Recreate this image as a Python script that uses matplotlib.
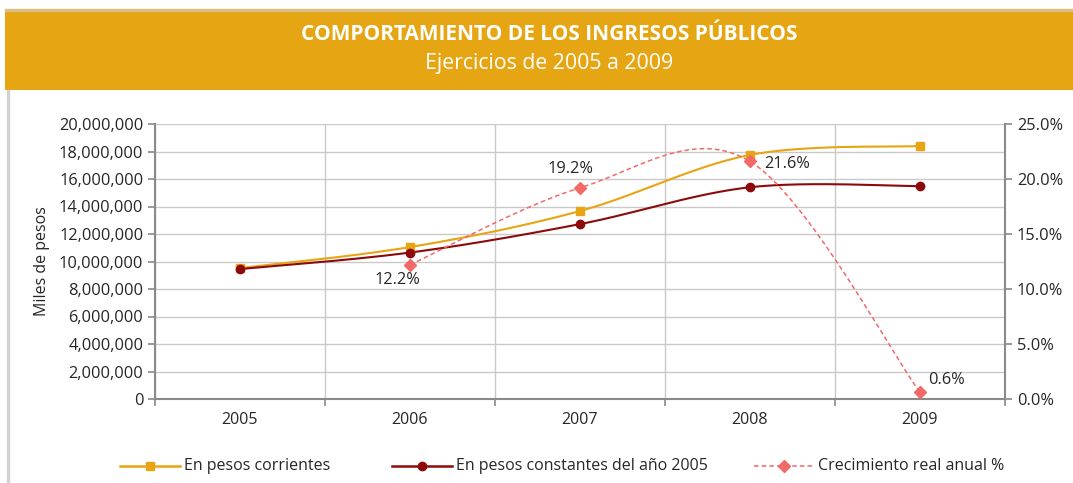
import numpy as np
import matplotlib
matplotlib.use('Agg')
from matplotlib import pyplot as plt
from matplotlib.ticker import FuncFormatter, FixedLocator

plt.rcParams['font.family'] = ['Open Sans', 'DejaVu Sans']

years = ['2005', '2006', '2007', '2008', '2009']
corrientes = [9.52e6, 11.05e6, 13.67e6, 17.75e6, 18.40e6]
constantes = [9.45e6, 10.65e6, 12.72e6, 15.40e6, 15.48e6]
crec_years = [1, 2, 3, 4]
crecimiento = [12.2, 19.2, 21.6, 0.6]

c_orange = '#E8A413'
c_dark = '#8C0A0A'
c_pink = '#F26A68'
c_grid = '#C9C9C9'
c_axis = '#8A8A8A'
c_text = '#262626'


def smooth(x, y, n=40):
    # bezier smoothing like the spreadsheet "smoothed line"
    x = np.asarray(x, float)
    y = np.asarray(y, float)
    px = np.concatenate([[x[0]], x, [x[-1]]])
    py = np.concatenate([[y[0]], y, [y[-1]]])
    t = np.linspace(0, 1, n)
    xs, ys = [], []
    for i in range(1, len(px) - 2):
        p0 = np.array([px[i], py[i]])
        p3 = np.array([px[i + 1], py[i + 1]])
        b1 = p0 + (np.array([px[i + 1], py[i + 1]]) - np.array([px[i - 1], py[i - 1]])) / 6
        b2 = p3 - (np.array([px[i + 2], py[i + 2]]) - np.array([px[i], py[i]])) / 6
        pts = ((1 - t)[:, None] ** 3 * p0 + 3 * ((1 - t) ** 2 * t)[:, None] * b1
               + 3 * ((1 - t) * t ** 2)[:, None] * b2 + (t ** 3)[:, None] * p3)
        xs.append(pts[:, 0])
        ys.append(pts[:, 1])
    return np.concatenate(xs), np.concatenate(ys)


W, H = 1073, 483
fig = plt.figure(figsize=(W / 100, H / 100), dpi=100)

# banner
banner = fig.add_axes([5 / W, 1 - 90 / H, 1 - 5 / W, 80 / H])
banner.set_facecolor('#E6A613')
banner.set_xticks([])
banner.set_yticks([])
for s in banner.spines.values():
    s.set_visible(False)
fig.patches.append(plt.Rectangle((5 / W, 1 - 11 / H), 1, 2 / H, transform=fig.transFigure,
                                 color='#D9BF86', zorder=3))
fig.patches.append(plt.Rectangle((7 / W, 0), 1.5 / W, 1 - 90 / H, transform=fig.transFigure,
                                 color='#D2D2D2', zorder=3))
fig.text(549 / W, 1 - 35 / H, 'COMPORTAMIENTO DE LOS INGRESOS PÚBLICOS', color='white',
         fontsize=15, fontweight='bold', ha='center', va='center')
fig.text(549 / W, 1 - 64 / H, 'Ejercicios de 2005 a 2009', color='white',
         fontsize=15.3, ha='center', va='center')

ax = fig.add_axes([155 / W, (H - 399) / H, 850 / W, 275 / H])
x = np.arange(len(years))

sx, sy = smooth(x, corrientes)
ax.plot(sx, sy, color=c_orange, lw=1.5, zorder=3)
ax.plot(x, corrientes, 's', color=c_orange, ms=6, zorder=4)
sx, sy = smooth(x, constantes)
ax.plot(sx, sy, color=c_dark, lw=1.5, zorder=3)
ax.plot(x, constantes, 'o', color=c_dark, ms=6, zorder=4)

ax.set_xlim(-0.5, 4.5)
ax.set_ylim(0, 20e6)
ax.set_yticks(np.arange(0, 20e6 + 1, 2e6))
ax.yaxis.set_major_formatter(FuncFormatter(lambda v, p: f'{v:,.0f}'))
ax.xaxis.set_major_locator(FixedLocator(np.arange(-0.5, 4.6, 1)))
ax.xaxis.set_minor_locator(FixedLocator(x))
ax.set_xticklabels([])
ax.set_xticklabels(years, minor=True)
ax.tick_params(axis='x', which='major', length=5, color=c_axis, width=1.2)
ax.tick_params(axis='x', which='minor', length=0, labelsize=11.5, labelcolor=c_text, pad=9)
ax.tick_params(axis='y', length=5, color=c_axis, width=1.2, labelsize=11.8, labelcolor=c_text)
ax.grid(True, color=c_grid, lw=1)
ax.set_axisbelow(True)
for k in ['top', 'right']:
    ax.spines[k].set_visible(False)
for k in ['left', 'bottom']:
    ax.spines[k].set_color(c_axis)
    ax.spines[k].set_linewidth(1.5)
ax.set_ylabel('Miles de pesos', fontsize=11.5, color=c_text, labelpad=6)

ax2 = ax.twinx()
ax2.set_ylim(0, 25)
ax2.set_yticks(np.arange(0, 25.1, 5))
ax2.yaxis.set_major_formatter(FuncFormatter(lambda v, p: f'{v:.1f}%'))
ax2.tick_params(axis='y', length=5, color=c_axis, width=1.2, labelsize=11.8, labelcolor=c_text)
for k in ['top', 'left', 'bottom']:
    ax2.spines[k].set_visible(False)
ax2.spines['right'].set_color(c_axis)
ax2.spines['right'].set_linewidth(1.5)

sx, sy = smooth(crec_years, crecimiento)
ax2.plot(sx, sy, color=c_pink, lw=1.1, ls=(0, (3, 2)), zorder=3)
ax2.plot(crec_years, crecimiento, 'D', color=c_pink, ms=6, zorder=4)

offsets = [(-9, -5, 'center', 'top'), (-7, 8, 'center', 'bottom'),
           (10, -2, 'left', 'center'), (6, 3, 'left', 'bottom')]
for xi, v, (dx, dy, ha, va) in zip(crec_years, crecimiento, offsets):
    ax2.annotate(f'{v:.1f}%', (xi, v), xytext=(dx, dy), textcoords='offset points',
                 ha=ha, va=va, fontsize=11.8, color=c_text)

# legend
ly = 1 - 466 / H
items = [(120, 184, c_orange, 's', '-', 'En pesos corrientes'),
         (392, 456, c_dark, 'o', '-', 'En pesos constantes del año 2005'),
         (754, 818, c_pink, 'D', '--', 'Crecimiento real anual %')]
for x0, xt, col, mk, ls, lab in items:
    fig.lines.append(plt.Line2D([x0 / W, (x0 + 60) / W], [ly, ly], transform=fig.transFigure,
                                color=col, lw=1.8 if ls == '-' else 1.1, ls=ls if ls == '-' else (0, (3, 2))))
    fig.lines.append(plt.Line2D([(x0 + 30) / W], [ly], transform=fig.transFigure,
                                color=col, marker=mk, ms=6, ls='none'))
    fig.text(xt / W, ly, lab, fontsize=11.5, color=c_text, ha='left', va='center')

fig.savefig('out.png', dpi=100)
